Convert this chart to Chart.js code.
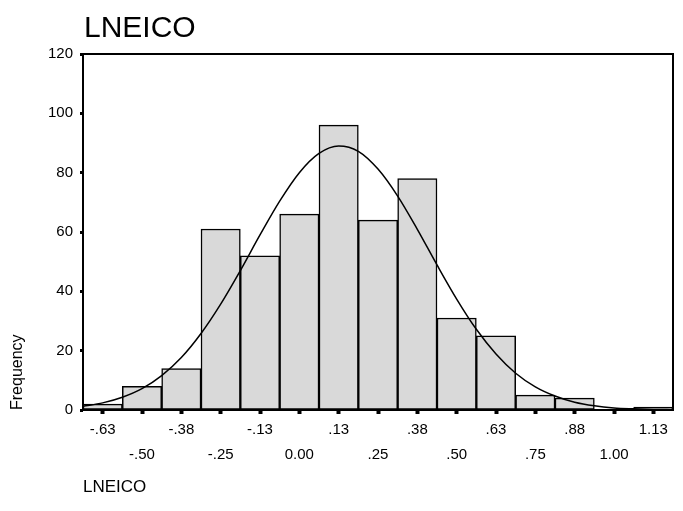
<!DOCTYPE html>
<html>
<head>
<meta charset="utf-8">
<script src="https://cdn.jsdelivr.net/npm/chart.js@4.4.1/dist/chart.umd.min.js"></script>
<style>
  html, body { margin: 0; padding: 0; background: #fff; }
  #wrap { width: 683px; height: 511px; }
</style>
</head>
<body>
<div id="wrap"><canvas id="myChart" width="683" height="511"></canvas></div>
<script>
// bin centres as printed on the axis
const binLabels = ['-.63', '-.50', '-.38', '-.25', '-.13', '0.00', '.13', '.25', '.38', '.50', '.63', '.75', '.88', '1.00', '1.13'];
// frequency per bin
const counts = [2, 8, 14, 61, 52, 66, 96, 64, 78, 31, 25, 5, 4, 0, 1];
// fitted normal curve
const curveX = [-0.6875, -0.625, -0.5625, -0.5, -0.4375, -0.375, -0.3125, -0.25, -0.1875, -0.125, -0.0625, 0,
  0.0625, 0.125, 0.1875, 0.25, 0.3125, 0.375, 0.4375, 0.5, 0.5625, 0.625, 0.6875, 0.75, 0.8125, 0.875,
  0.9375, 1.0, 1.0625, 1.125, 1.1875];
const curveY = [1.3, 2.4, 4.3, 7.2, 11.6, 17.7, 25.8, 35.7, 47.0, 59.0, 70.4, 80.0,
  86.5, 89.0, 87.2, 81.2, 72.1, 60.9, 48.9, 37.4, 27.2, 18.9, 12.4, 7.8, 4.7, 2.6,
  1.4, 0.7, 0.4, 0.2, 0.1];
const yTicks = [0, 20, 40, 60, 80, 100, 120];

const FONT = "'Liberation Sans', Arial, sans-serif";

// title + frame around the plot area
const spssFrame = {
  id: 'spssFrame',
  afterDraw(chart) {
    const { ctx, chartArea: a } = chart;
    ctx.save();
    ctx.strokeStyle = '#000';
    ctx.lineWidth = 2;
    ctx.strokeRect(a.left, a.top, a.right - a.left, a.bottom - a.top);
    ctx.fillStyle = '#000';
    ctx.font = '30px ' + FONT;
    ctx.textBaseline = 'alphabetic';
    ctx.textAlign = 'left';
    ctx.fillText('LNEICO', 84, 37);
    ctx.restore();
  }
};

const data = {
  labels: binLabels,
  datasets: [
    {
      type: 'line',
      label: 'Normal',
      data: curveX.map((x, i) => ({ x: x, y: curveY[i] })),
      xAxisID: 'x2',
      borderColor: '#000',
      borderWidth: 1.5,
      pointRadius: 0,
      cubicInterpolationMode: 'monotone',
      fill: false,
      order: 0
    },
    {
      type: 'bar',
      label: 'LNEICO',
      data: counts,
      xAxisID: 'x',
      backgroundColor: '#d9d9d9',
      borderColor: '#000',
      borderWidth: 1.5,
      borderSkipped: false,
      grouped: false,
      barPercentage: 1,
      categoryPercentage: 1,
      order: 1
    }
  ]
};

const config = {
  type: 'bar',
  data: data,
  options: {
    responsive: false,
    animation: false,
    layout: { padding: { top: 54, right: 10, left: 0, bottom: 0 } },
    plugins: {
      legend: { display: false },
      tooltip: { enabled: false }
    },
    scales: {
      x: {
        type: 'category',
        offset: true,
        border: { display: false },
        grid: { drawOnChartArea: false, drawTicks: true, tickLength: 4, tickWidth: 4, color: '#000', offset: false },
        ticks: {
          color: '#000',
          font: { family: FONT, size: 15, lineHeight: 1.67 },
          padding: 3,
          maxRotation: 0,
          autoSkip: false,
          callback: function (value, index) {
            const lab = binLabels[index];
            return index % 2 === 0 ? lab : ['', lab];
          }
        },
        title: {
          display: true,
          text: 'LNEICO',
          align: 'start',
          color: '#000',
          font: { family: FONT, size: 17 },
          padding: { top: 4, bottom: 13 }
        },
        afterFit: (scale) => { scale.height = 101; }
      },
      x2: {
        type: 'linear',
        display: false,
        offset: false,
        grid: { offset: false },
        min: -0.6875,
        max: 1.1875
      },
      y: {
        min: 0,
        max: 120,
        border: { display: false },
        afterBuildTicks: (scale) => { scale.ticks = yTicks.map(v => ({ value: v })); },
        grid: { drawOnChartArea: false, drawTicks: true, tickLength: 3, tickWidth: 3, color: '#000' },
        ticks: {
          color: '#000',
          font: { family: FONT, size: 15 },
          padding: 7
        },
        title: {
          display: true,
          text: 'Frequency',
          align: 'start',
          color: '#000',
          font: { family: FONT, size: 16 },
          padding: { top: 8, bottom: 0 }
        },
        afterFit: (scale) => { scale.width = 83; }
      }
    }
  },
  plugins: [spssFrame]
};

const ctx = document.getElementById('myChart');
const myChart = new Chart(ctx, config);
</script>
</body>
</html>
